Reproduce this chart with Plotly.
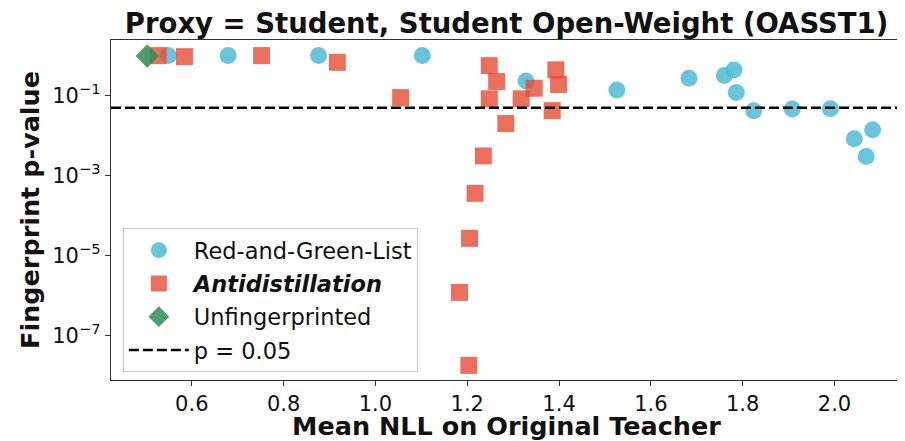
import plotly.graph_objects as go

# Red-and-Green-List watermark runs
rg_nll = [0.549, 0.679, 0.876, 1.102, 1.328, 1.526, 1.683, 1.760, 1.781, 1.786,
          1.824, 1.908, 1.991, 2.043, 2.083, 2.069]
rg_p = [1.0, 1.0, 1.0, 1.0, 0.233, 0.138, 0.272, 0.316, 0.436, 0.119,
        0.042, 0.046, 0.047, 0.0083, 0.014, 0.003]

# Antidistillation runs
ad_nll = [0.527, 0.584, 0.752, 0.917, 1.055, 1.248, 1.264, 1.248, 1.284, 1.235,
          1.217, 1.205, 1.183, 1.2035, 1.3175, 1.346, 1.393, 1.399, 1.385]
ad_p = [1.0, 0.94, 1.0, 0.68, 0.089, 0.56, 0.224, 0.083, 0.020, 0.0031,
        0.00036, 2.7e-5, 1.2e-6, 1.8e-8, 0.083, 0.153, 0.44, 0.19, 0.042]

# Unfingerprinted baseline
base_nll = [0.503]
base_p = [0.98]

p_threshold = 0.05
x_range = [0.424, 2.147]
y_range_log = [-8.11, 0.39]

x_ticks = [0.6, 0.8, 1.0, 1.2, 1.4, 1.6, 1.8, 2.0]
y_ticks = [1e-1, 1e-3, 1e-5, 1e-7]
y_tick_text = ["10<sup>\u22121</sup>", "10<sup>\u22123</sup>",
               "10<sup>\u22125</sup>", "10<sup>\u22127</sup>"]

FONT = "DejaVu Sans"

fig = go.Figure()

fig.add_trace(go.Scatter(
    x=rg_nll, y=rg_p, mode="markers", name="Red-and-Green-List",
    legendgroup="rg",
    marker=dict(symbol="circle", size=17, color="#4DBBD5", opacity=0.85,
                line=dict(width=0)),
))
fig.add_trace(go.Scatter(
    x=ad_nll, y=ad_p, mode="markers", name="<b><i>Antidistillation</i></b>",
    legendgroup="ad",
    marker=dict(symbol="square", size=17, color="#E64B35", opacity=0.8,
                line=dict(width=0)),
))
fig.add_trace(go.Scatter(
    x=base_nll, y=base_p, mode="markers", name="Unfingerprinted",
    legendgroup="base",
    marker=dict(symbol="diamond", size=18, color="#2E8B57", opacity=0.85,
                line=dict(width=0)),
))
# threshold line across the whole axis
fig.add_trace(go.Scatter(
    x=x_range, y=[p_threshold, p_threshold], mode="lines", name="p = 0.05",
    legendgroup="thr",
    line=dict(color="black", width=2.5, dash="10px,4px"),
))

axis_common = dict(
    showgrid=False, zeroline=False, showline=True, mirror=True,
    linecolor="#333333", linewidth=1.3, ticks="outside", ticklen=5,
    tickcolor="#333333", tickfont=dict(family=FONT, size=21, color="#111111"),
    automargin=False,
)

# page body has an 8px margin, so the figure is shrunk and shifted to fit
fig.update_layout(
    width=897, height=433,
    margin=dict(l=103, r=3, t=32, b=61),
    paper_bgcolor="white", plot_bgcolor="white",
    font=dict(family=FONT, color="#111111"),
    title=dict(
        text="Proxy = Student, Student Open-Weight (OASST1)",
        font=dict(family=FONT, size=27.5, weight="bold", color="#111111"),
        x=0.5, xref="paper", xanchor="center",
        y=1 - 15 / 433, yref="container", yanchor="middle",
    ),
    xaxis=dict(
        range=x_range, tickvals=x_ticks, ticktext=[f"{v:.1f}" for v in x_ticks],
        title=dict(text="Mean NLL on Original Teacher", standoff=5,
                   font=dict(family=FONT, size=25.5, weight="bold")),
        **axis_common,
    ),
    yaxis=dict(
        type="log", range=y_range_log, tickvals=y_ticks, ticktext=y_tick_text,
        title=dict(text="Fingerprint p-value", standoff=5,
                   font=dict(family=FONT, size=25.5, weight="bold")),
        **axis_common,
    ),
    legend=dict(
        x=0.015, y=0.447, xanchor="left", yanchor="top",
        bgcolor="rgba(255,255,255,0.9)", bordercolor="#cccccc", borderwidth=1,
        font=dict(family=FONT, size=22.5, color="#111111"),
        itemwidth=60, tracegroupgap=1,
    ),
    showlegend=True,
)

fig.write_html("out.html")
